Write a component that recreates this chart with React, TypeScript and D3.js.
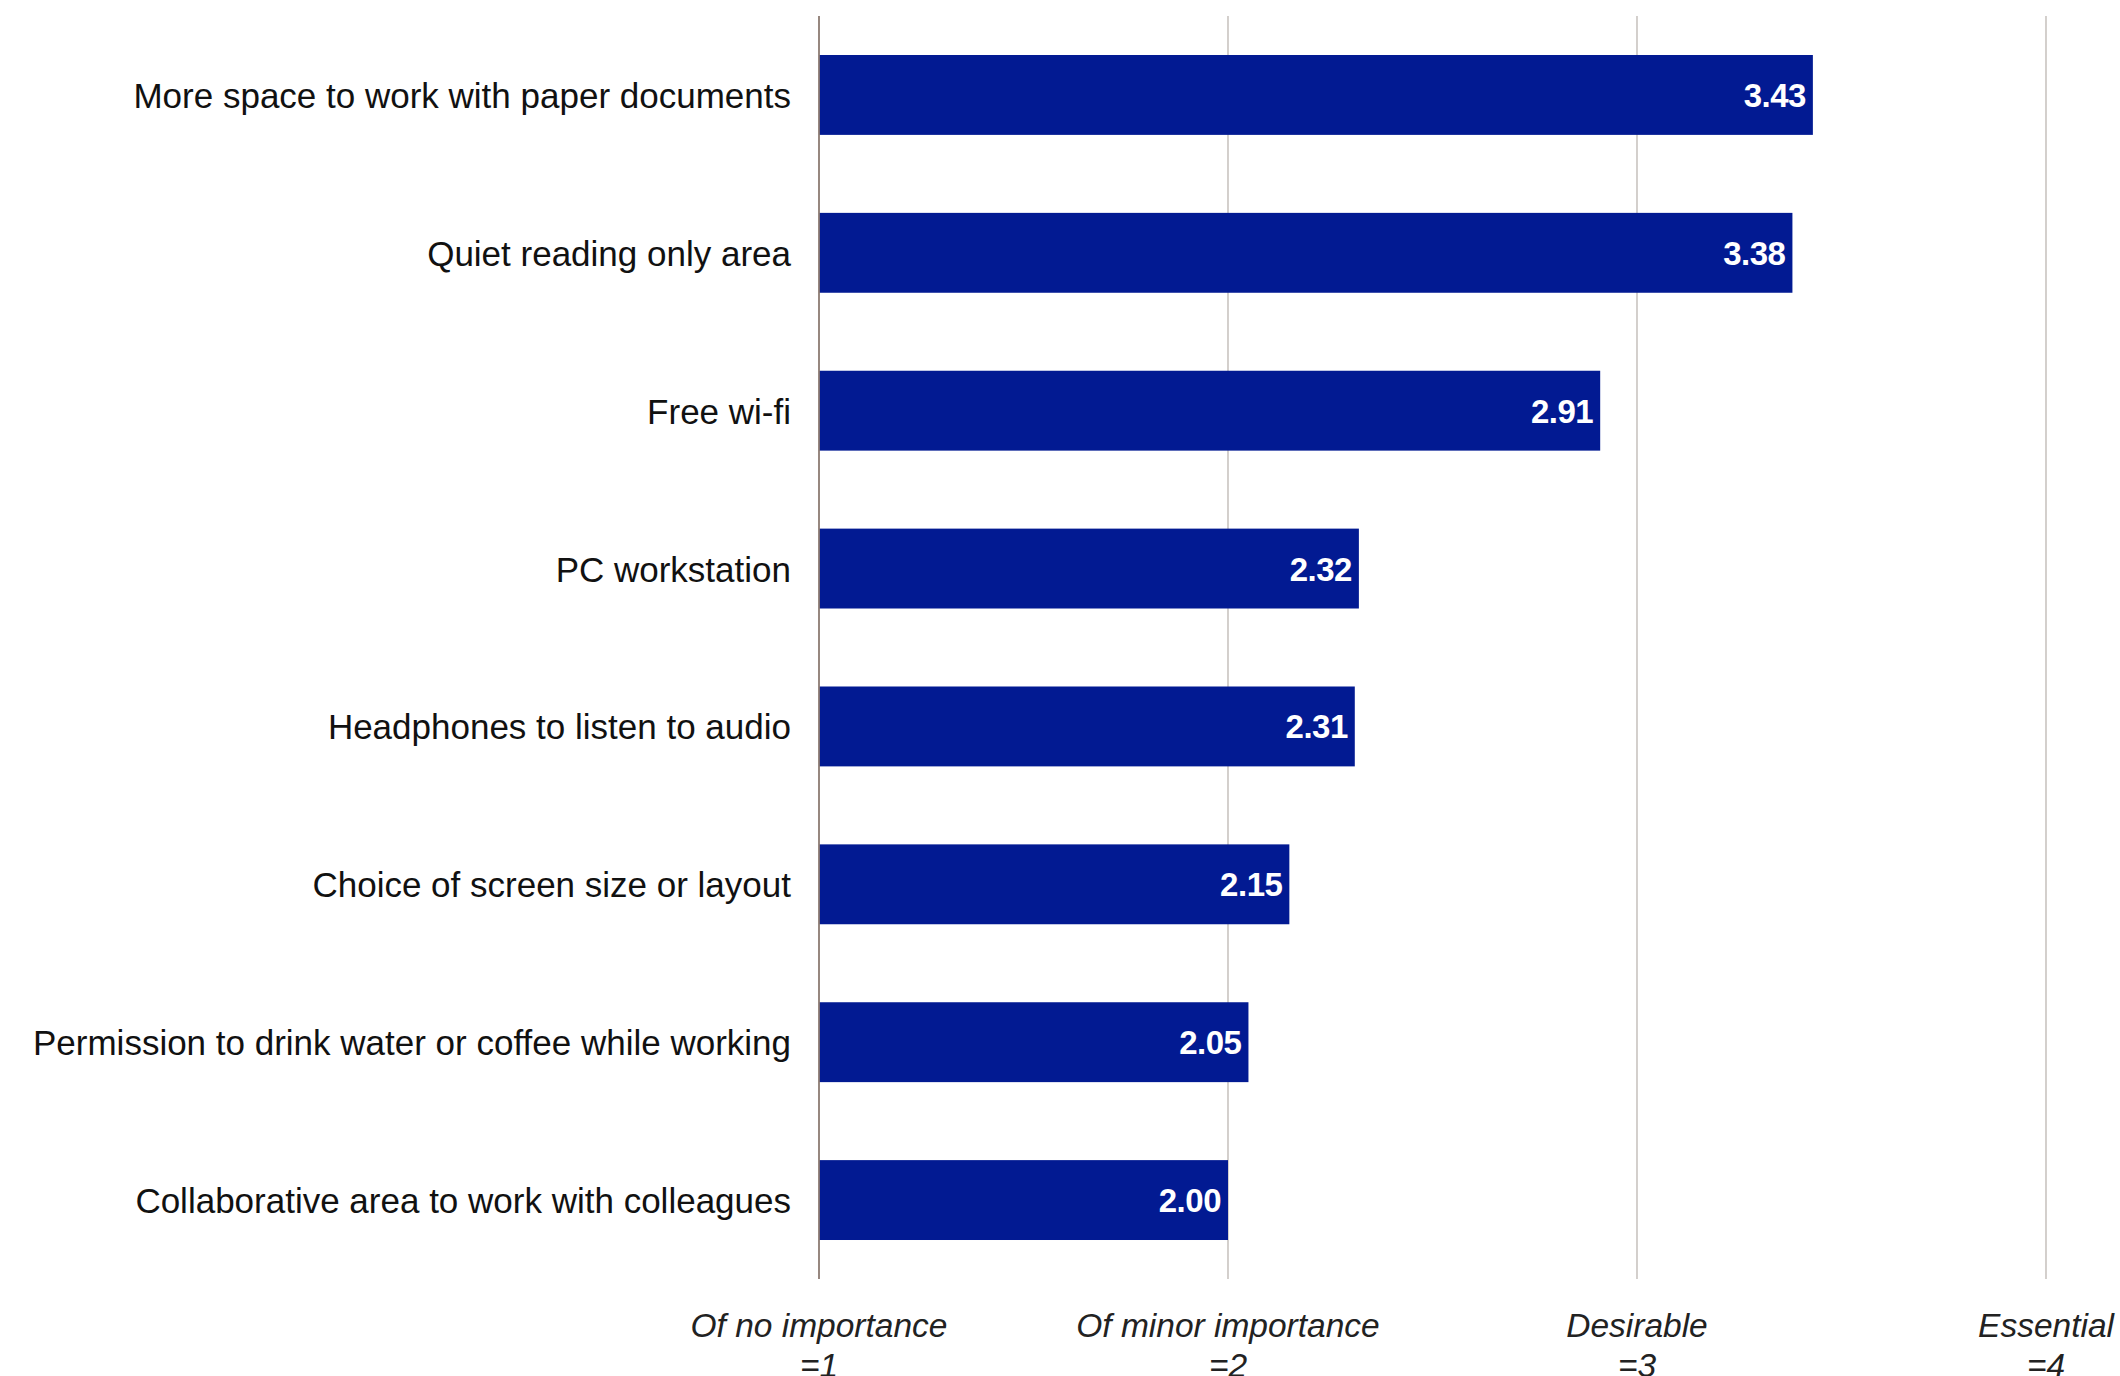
import React from "react";
import * as d3 from "d3";

const categories = [
  "More space to work with paper documents",
  "Quiet reading only area",
  "Free wi-fi",
  "PC workstation",
  "Headphones to listen to audio",
  "Choice of screen size or layout",
  "Permission to drink water or coffee while working",
  "Collaborative area to work with colleagues",
];
const values = [3.43, 3.38, 2.91, 2.32, 2.31, 2.15, 2.05, 2.0];
const tickValues = [1, 2, 3, 4];
const tickLabels = [
  ["Of no importance", "=1"],
  ["Of minor importance", "=2"],
  ["Desirable", "=3"],
  ["Essential", "=4"],
];

const W = 2120;
const H = 1376;
const FONT = "'Liberation Sans', Arial, Helvetica, sans-serif";

export default function App() {
  const x = d3.scaleLinear().domain([1, 4]).range([819, 2046]);
  const y = d3
    .scaleBand<string>()
    .domain(categories)
    .range([16, 1279])
    .paddingInner(0.494)
    .paddingOuter(0.247);
  const bw = y.bandwidth();
  return (
    <svg
      width={W}
      height={H}
      style={{ position: "absolute", left: 0, top: 0, background: "#fff" }}
    >
      {tickValues.slice(1).map((t) => (
        <line
          key={t}
          x1={x(t)}
          x2={x(t)}
          y1={16}
          y2={1279}
          stroke="#c9c4c0"
          strokeWidth={1.6}
        />
      ))}
      {categories.map((c, i) => {
        const yy = y(c)!;
        const cy = yy + bw / 2;
        return (
          <g key={c}>
            <rect
              x={x(1)}
              y={yy}
              width={x(values[i]) - x(1)}
              height={bw}
              fill="#021a92"
            />
            <text
              x={x(values[i]) - 7}
              y={cy + 12}
              textAnchor="end"
              fill="#fff"
              fontFamily={FONT}
              fontWeight="bold"
              fontSize={33}
              letterSpacing={-0.5}
            >
              {values[i].toFixed(2)}
            </text>
            <text
              x={791}
              y={cy + 13}
              textAnchor="end"
              fill="#111"
              fontFamily={FONT}
              fontSize={35}
            >
              {c}
            </text>
          </g>
        );
      })}
      <line
        x1={x(1)}
        x2={x(1)}
        y1={16}
        y2={1279}
        stroke="#8c7b72"
        strokeWidth={1.8}
      />
      {tickValues.map((t, i) => (
        <text
          key={t}
          x={x(t)}
          textAnchor="middle"
          fill="#222"
          fontFamily={FONT}
          fontStyle="italic"
          fontSize={33.5}
        >
          <tspan x={x(t)} y={1337}>
            {tickLabels[i][0]}
          </tspan>
          <tspan x={x(t)} y={1377}>
            {tickLabels[i][1]}
          </tspan>
        </text>
      ))}
    </svg>
  );
}
